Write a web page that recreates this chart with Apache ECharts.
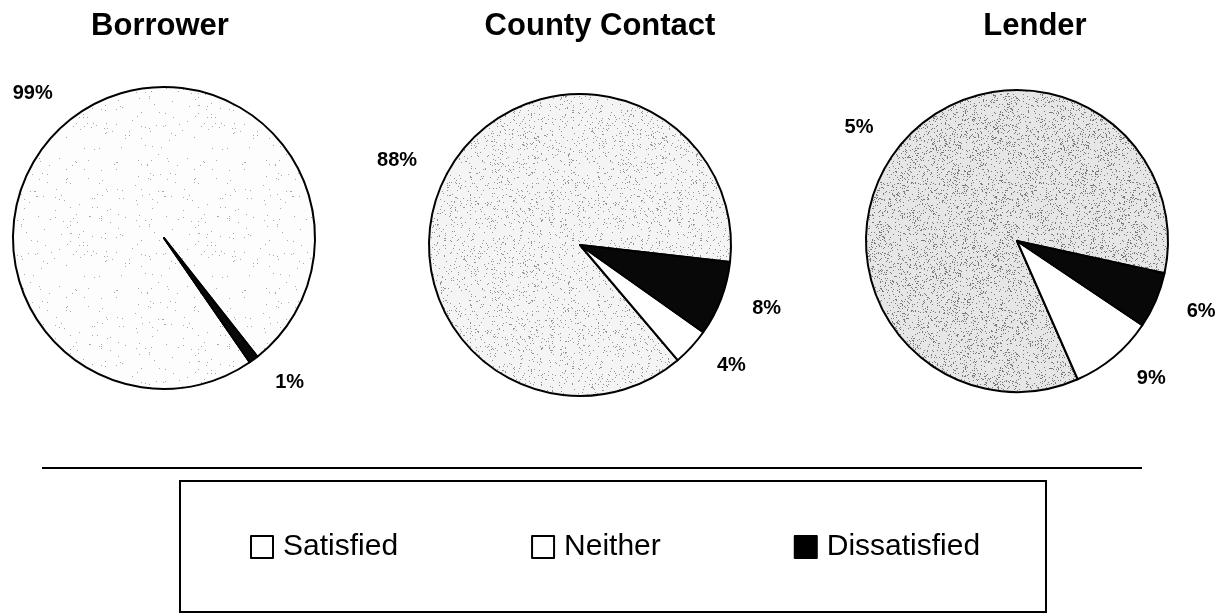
<!DOCTYPE html>
<html>
<head>
<meta charset="utf-8">
<script src="https://cdn.jsdelivr.net/npm/echarts@6/dist/echarts.min.js"></script>
<style>
html,body{margin:0;padding:0;background:#fff;}
#chart{width:1224px;height:613px;}
</style>
</head>
<body>
<div id="chart"></div>
<script>
// ---- data ----
const categories = ['Satisfied', 'Neither', 'Dissatisfied'];
const pieTitles = ['Borrower', 'County Contact', 'Lender'];
const borrowerValues = [99, 0, 1];
const countyValues = [88, 4, 8];
const lenderValues = [85, 9, 6];
const borrowerLabels = ['99%', '', '1%'];
const countyLabels = ['88%', '4%', '8%'];
const lenderLabels = ['5%', '9%', '6%'];

// ---- styling helpers (decorative stipple texture, deterministic) ----
function stipple(bg, count, dot, seed) {
  const c = document.createElement('canvas');
  c.width = 128; c.height = 128;
  const ctx = c.getContext('2d');
  ctx.fillStyle = bg; ctx.fillRect(0, 0, 128, 128);
  let a = seed >>> 0;
  const next = () => {
    a = (a + 0x6D2B79F5) >>> 0;
    let t = a;
    t = Math.imul(t ^ (t >>> 15), t | 1);
    t ^= t + Math.imul(t ^ (t >>> 7), t | 61);
    return ((t ^ (t >>> 14)) >>> 0) / 4294967296;
  };
  ctx.fillStyle = dot;
  for (let i = 0; i < count; i++) {
    const x = Math.floor(next() * 128), y = Math.floor(next() * 128);
    ctx.fillRect(x, y, 1, 1);
  }
  return { image: c, repeat: 'repeat' };
}
const satisfiedFills = [
  stipple('#fdfdfd', 170, '#a8a8a8', 7),
  stipple('#f4f4f4', 950, '#949494', 11),
  stipple('#e6e6e6', 2000, '#7a7a7a', 13)
];
const sliceColors = [null, '#ffffff', '#080808'];

const pieCenters = [[164, 238], [580, 245], [1017, 241]];
const pieRadius = 151;
const startAngles = [308.2, 353.5, 347.7];
const titleX = [160, 600, 1035];

function buildSeries(idx, values, labels) {
  return {
    type: 'pie',
    name: pieTitles[idx],
    center: pieCenters[idx],
    radius: pieRadius,
    startAngle: startAngles[idx],
    clockwise: false,
    avoidLabelOverlap: false,
    silent: true,
    animation: false,
    itemStyle: { borderColor: '#000', borderWidth: 2 },
    label: {
      show: true,
      position: 'outside',
      color: '#000',
      fontFamily: 'Liberation Sans, Arial, sans-serif',
      fontWeight: 'bold',
      fontSize: 20,
      formatter: p => labels[p.dataIndex]
    },
    labelLine: { show: false, length: 28, length2: 0 },
    emphasis: { disabled: true },
    data: categories.map((name, i) => ({
      name: name,
      value: values[i],
      label: { show: labels[i] !== '' },
      itemStyle: { color: i === 0 ? satisfiedFills[idx] : sliceColors[i] }
    }))
  };
}

const chart = echarts.init(document.getElementById('chart'), null, { renderer: 'canvas' });
chart.setOption({
  backgroundColor: '#ffffff',
  animation: false,
  title: pieTitles.map((t, i) => ({
    text: t,
    left: titleX[i],
    top: 11,
    padding: 0,
    textAlign: 'center',
    textStyle: {
      fontFamily: 'Liberation Sans, Arial, sans-serif',
      fontWeight: 'bold',
      fontSize: 31,
      color: '#000'
    }
  })),
  legend: {
    left: 250,
    top: 532,
    padding: 0,
    itemGap: 133,
    itemWidth: 22,
    itemHeight: 22,
    icon: 'rect',
    selectedMode: false,
    data: [
      { name: 'Satisfied', itemStyle: { color: '#ffffff', borderColor: '#000', borderWidth: 2 } },
      { name: 'Neither', itemStyle: { color: '#ffffff', borderColor: '#000', borderWidth: 2 } },
      { name: 'Dissatisfied', itemStyle: { color: '#000000', borderColor: '#000', borderWidth: 2 } }
    ],
    textStyle: {
      fontFamily: 'Liberation Sans, Arial, sans-serif',
      fontSize: 30,
      color: '#000',
      padding: [0, 0, 0, 5]
    }
  },
  graphic: [
    { type: 'line', shape: { x1: 42, y1: 468, x2: 1142, y2: 468 }, style: { stroke: '#000', lineWidth: 2 }, silent: true },
    { type: 'rect', shape: { x: 180, y: 481, width: 866, height: 131 }, style: { fill: 'none', stroke: '#000', lineWidth: 2 }, silent: true }
  ],
  series: [
    buildSeries(0, borrowerValues, borrowerLabels),
    buildSeries(1, countyValues, countyLabels),
    buildSeries(2, lenderValues, lenderLabels)
  ]
});
</script>
</body>
</html>
